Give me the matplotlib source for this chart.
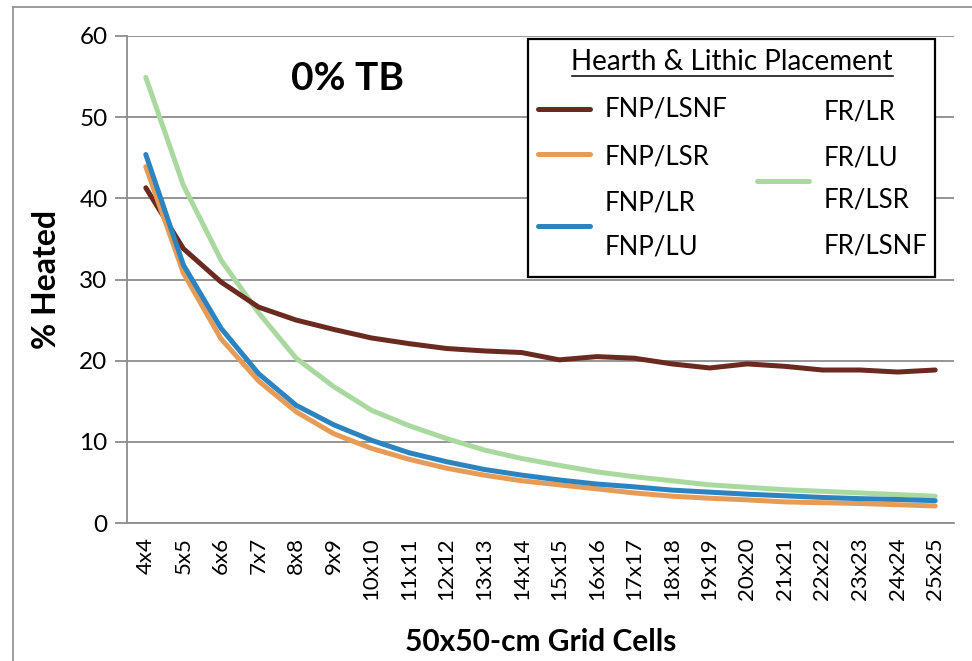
import matplotlib.pyplot as plt
from matplotlib.lines import Line2D
from matplotlib.patches import Rectangle

plt.rcParams['font.family'] = ['Lato', 'DejaVu Sans']

# grid sizes on x axis
cells = ['4x4', '5x5', '6x6', '7x7', '8x8', '9x9', '10x10', '11x11', '12x12',
         '13x13', '14x14', '15x15', '16x16', '17x17', '18x18', '19x19',
         '20x20', '21x21', '22x22', '23x23', '24x24', '25x25']

# % heated for each placement
fnp_lsnf = [41.3, 33.8, 29.7, 26.6, 25.0, 23.85, 22.8, 22.1, 21.5, 21.2, 21.0,
            20.1, 20.5, 20.3, 19.6, 19.1, 19.6, 19.3, 18.85, 18.85, 18.6, 18.85]
fnp_lsr = [43.9, 30.8, 22.7, 17.5, 13.7, 11.0, 9.2, 7.85, 6.75, 5.9, 5.2,
           4.7, 4.2, 3.7, 3.3, 3.05, 2.85, 2.6, 2.5, 2.4, 2.25, 2.1]
fnp_lr_lu = [45.4, 31.8, 24.0, 18.4, 14.5, 12.1, 10.2, 8.66, 7.55, 6.6, 5.9,
             5.3, 4.8, 4.45, 4.05, 3.8, 3.55, 3.35, 3.15, 3.0, 2.9, 2.75]
fr_all = [54.9, 41.6, 32.4, 25.9, 20.3, 16.8, 13.9, 12.0, 10.4, 9.0, 7.95,
          7.1, 6.3, 5.7, 5.2, 4.7, 4.4, 4.1, 3.9, 3.7, 3.5, 3.3]

c_brown = '#6A2A20'
c_orange = '#E69C57'
c_blue = '#2B83BF'
c_green = '#AAD9A0'

W, H = 972, 661
fig = plt.figure(figsize=(W / 100, H / 100), dpi=100)
ax = fig.add_axes([127 / W, 1 - 523 / H, (954 - 127) / W, (523 - 36) / H])

x = range(len(cells))
lw = 3.6
ax.plot(x, fnp_lsnf, color=c_brown, lw=lw, solid_capstyle='round', zorder=3)
ax.plot(x, fnp_lsr, color=c_orange, lw=lw, solid_capstyle='round', zorder=3)
ax.plot(x, fnp_lr_lu, color=c_blue, lw=lw, solid_capstyle='round', zorder=4)
ax.plot(x, fr_all, color=c_green, lw=lw, solid_capstyle='round', zorder=2)

ax.set_xlim(-0.5, len(cells) - 0.5)
ax.set_ylim(0, 60)
ax.set_yticks(range(0, 61, 10))
ax.set_xticks(list(x))
ax.set_xticklabels(cells, rotation=90, fontsize=16)
ax.tick_params(axis='y', labelsize=17.5, length=9, width=1.3, color='#8C8C8C', pad=5)
ax.tick_params(axis='x', length=0, pad=10)
ax.yaxis.grid(True, color='#8C8C8C', lw=1.3)
ax.set_axisbelow(True)
for s in ['top', 'right']:
    ax.spines[s].set_visible(False)
for s in ['left', 'bottom']:
    ax.spines[s].set_color('#8C8C8C')
    ax.spines[s].set_linewidth(1.3)

ax.set_ylabel('% Heated', fontsize=23, fontweight='bold', labelpad=13)
ax.set_xlabel('50x50-cm Grid Cells', fontsize=21.5, fontweight='bold', labelpad=20)

def fx(px):
    return px / W

def fy(py):
    return 1 - py / H

fig.text(fx(347), fy(79), '0% TB', fontsize=28, fontweight='bold',
         ha='center', va='center')

# legend box, drawn by hand to match the two-column Excel layout
fig.add_artist(Rectangle((fx(528), fy(277)), fx(935) - fx(528), fy(39) - fy(277),
                         fill=True, facecolor='white', edgecolor='black', lw=1.6,
                         zorder=5))
fig.text(fx(732), fy(62), 'Hearth & Lithic Placement', fontsize=20,
         ha='center', va='center', zorder=6)
fig.add_artist(Line2D([fx(572), fx(893)], [fy(76), fy(76)], color='black', lw=1.1,
                      zorder=6))

entries = [
    (c_brown, 538, 109, ['FNP/LSNF'], [109]),
    (c_orange, 538, 154, ['FNP/LSR'], [157]),
    (c_blue, 538, 226, ['FNP/LR', 'FNP/LU'], [203, 247]),
    (c_green, 757, 181, ['FR/LR', 'FR/LU', 'FR/LSR', 'FR/LSNF'], [112, 158, 200, 246]),
]
for color, lx, ly, labels, ys in entries:
    fig.add_artist(Line2D([fx(lx), fx(lx + 52)], [fy(ly), fy(ly)], color=color,
                          lw=lw, solid_capstyle='round', zorder=6))
    for lab, ty in zip(labels, ys):
        fig.text(fx(lx + 67), fy(ty), lab, fontsize=18.5, ha='left', va='center',
                 zorder=6)

# outer chart border (partly cropped in the original)
fig.add_artist(Line2D([fx(13), fx(13)], [fy(7), 0], color='#8C8C8C', lw=1.2))
fig.add_artist(Line2D([fx(13), 1], [fy(7), fy(7)], color='#8C8C8C', lw=1.2))

fig.savefig('out.png', dpi=100)
